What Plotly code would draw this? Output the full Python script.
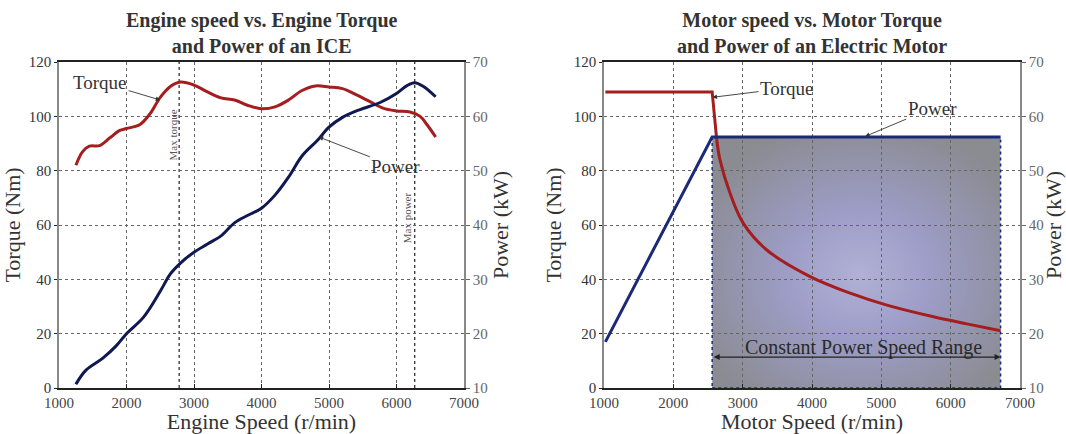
import base64
import plotly.graph_objects as go
from plotly.subplots import make_subplots

# ---------------- data ----------------
ice_torque_rpm = [1250, 1350, 1450, 1600, 1750, 1900, 2000, 2200, 2350, 2500, 2650, 2800, 3000,
                  3200, 3400, 3600, 3800, 4000, 4200, 4400, 4600, 4800, 5000, 5200, 5400, 5600,
                  5800, 6000, 6200, 6350, 6450, 6580]
ice_torque_nm = [82, 87, 89, 89.2, 92, 94.8, 95.5, 97, 101, 107, 111, 112.6, 111.5,
                 109, 106.8, 106, 104, 102.8, 103.5, 106, 109.5, 111.2, 110.8, 110.2, 108, 105.5,
                 103, 102, 101.6, 100, 97, 92.4]

ice_power_rpm = [1250, 1400, 1650, 1850, 2000, 2250, 2500, 2650, 2800, 3000, 3200, 3400, 3600,
                 3800, 4000, 4200, 4400, 4600, 4830, 5000, 5200, 5450, 5750, 6000, 6150, 6270,
                 6400, 6580]
ice_power_kw = [10.7, 13.3, 15.5, 17.8, 20.0, 23.0, 27.8, 31.0, 33.0, 35.0, 36.5, 38.0, 40.4,
                41.8, 43.1, 45.5, 48.8, 52.7, 55.6, 58.0, 59.8, 61.2, 62.5, 64.2, 65.6, 66.2,
                65.5, 63.6]

max_torque_rpm = 2780
max_power_rpm = 6270

em_torque_flat_rpm = [1020, 2560, 2626]
em_torque_flat_nm = [109, 109, 91.3]
em_torque_curve_rpm = [2626, 2674, 2818, 3010, 3348, 3973, 4550, 5080, 5752, 6234, 6720]
em_torque_curve_nm = [91.3, 83.9, 71.7, 60.6, 50.8, 41.0, 34.9, 30.5, 26.2, 23.6, 21.1]

em_power_rpm = [1020, 2560, 6720]
em_power_kw = [18.5, 56.2, 56.2]

cpsr_start, cpsr_end = 2560, 6720

x_ticks = [1000, 2000, 3000, 4000, 5000, 6000, 7000]
torque_ticks = [0, 20, 40, 60, 80, 100, 120]
power_ticks = [10, 20, 30, 40, 50, 60, 70]

# ---------------- styling ----------------
FONT = "Liberation Serif"
RED = "#a41d1f"
NAVY_L = "#0f1850"
NAVY_R = "#1b2a78"
TXT = "#333333"

fig = make_subplots(rows=1, cols=2, specs=[[{"secondary_y": True}, {"secondary_y": True}]])

# left chart
fig.add_trace(go.Scatter(x=ice_torque_rpm, y=ice_torque_nm, mode="lines",
                         line=dict(color=RED, width=3, shape="spline", smoothing=1.0),
                         showlegend=False), row=1, col=1, secondary_y=False)
fig.add_trace(go.Scatter(x=ice_power_rpm, y=ice_power_kw, mode="lines",
                         line=dict(color=NAVY_L, width=3, shape="spline", smoothing=1.0),
                         showlegend=False), row=1, col=1, secondary_y=True)

# right chart
fig.add_trace(go.Scatter(x=em_torque_flat_rpm, y=em_torque_flat_nm, mode="lines",
                         line=dict(color=RED, width=3), showlegend=False),
              row=1, col=2, secondary_y=False)
fig.add_trace(go.Scatter(x=em_torque_curve_rpm, y=em_torque_curve_nm, mode="lines",
                         line=dict(color=RED, width=3, shape="spline", smoothing=1.0),
                         showlegend=False), row=1, col=2, secondary_y=False)
fig.add_trace(go.Scatter(x=em_power_rpm, y=em_power_kw, mode="lines",
                         line=dict(color=NAVY_R, width=3), showlegend=False),
              row=1, col=2, secondary_y=True)

# gradient background image for constant power region
svg = ("<svg xmlns='http://www.w3.org/2000/svg' width='300' height='250' viewBox='0 0 300 250' "
       "preserveAspectRatio='none'><defs><radialGradient id='g' cx='0.51' cy='0.55' r='0.62'>"
       "<stop offset='0' stop-color='#b1b1d6'/><stop offset='0.4' stop-color='#9d9dc8'/>"
       "<stop offset='1' stop-color='#8b8b92'/></radialGradient></defs>"
       "<rect width='300' height='250' fill='url(#g)'/></svg>")
src = "data:image/svg+xml;base64," + base64.b64encode(svg.encode()).decode()
top_torque = (em_power_kw[1] - 10) * 2
fig.add_layout_image(dict(source=src, xref="x2", yref="y3", x=cpsr_start, y=top_torque,
                          sizex=cpsr_end - cpsr_start, sizey=top_torque, sizing="stretch",
                          xanchor="left", yanchor="top", layer="below", opacity=1))

shapes = []
shapes.append(dict(type="rect", xref="x2", yref="y3", x0=cpsr_start, x1=cpsr_end, y0=0,
                   y1=top_torque, line=dict(color=NAVY_R, width=1.5, dash="dot"), layer="above"))
wl = dict(color="rgba(255,255,255,0.6)", width=1)
wl2 = dict(color="rgba(255,255,255,0.35)", width=1)
shapes += [
    dict(type="line", xref="x2", yref="y3", x0=cpsr_start, x1=cpsr_end, y0=61.5, y1=61.5, line=wl, layer="below"),
    dict(type="line", xref="x2", yref="y3", x0=3963, x1=3963, y0=30.8, y1=top_torque, line=wl, layer="below"),
    dict(type="line", xref="x2", yref="y3", x0=5368, x1=5368, y0=30.8, y1=top_torque, line=wl, layer="below"),
    dict(type="line", xref="x2", yref="y3", x0=cpsr_start, x1=3963, y0=30.8, y1=30.8, line=wl2, layer="below"),
    dict(type="line", xref="x2", yref="y3", x0=5368, x1=cpsr_end, y0=30.8, y1=30.8, line=wl2, layer="below"),
]
for xv in (max_torque_rpm, max_power_rpm):
    shapes.append(dict(type="line", xref="x", yref="y", x0=xv, x1=xv, y0=0, y1=120,
                       line=dict(color="#222222", width=1.2, dash="dot"), layer="below"))
fig.update_layout(shapes=shapes)

# ---------------- axes ----------------
dom_l = [59 / 1066, 464 / 1066]
dom_r = [604 / 1066, 1020 / 1066]
dom_y = [(434 - 388) / 434, (434 - 62) / 434]

xcommon = dict(range=[1000, 7000], tickvals=x_ticks, showgrid=True, gridcolor="#666666",
               griddash="dot", gridwidth=1, showline=True, linecolor="#222222", linewidth=1.5,
               mirror=True, ticks="inside", ticklen=4, tickcolor="#222222", automargin=False,
               tickfont=dict(family=FONT, size=15, color="#444444"), zeroline=False)
fig.update_layout(
    xaxis=dict(domain=dom_l, **xcommon,
               title=dict(text="Engine Speed (r/min)", font=dict(family=FONT, size=22, color=TXT), standoff=2)),
    xaxis2=dict(domain=dom_r, **xcommon,
                title=dict(text="Motor Speed (r/min)", font=dict(family=FONT, size=22, color=TXT), standoff=2)),
)
ycommon = dict(range=[0, 120], tickvals=torque_ticks, showgrid=True, gridcolor="#666666",
               griddash="dot", gridwidth=1, showline=True, linecolor="#888888", linewidth=1.5,
               ticks="outside", ticklen=3, tickcolor="#222222", zeroline=False, automargin=False,
               tickfont=dict(family=FONT, size=15, color="#333333"),
               title=dict(text="Torque (Nm)", font=dict(family=FONT, size=22, color=TXT), standoff=6))
y2common = dict(range=[10, 70], tickvals=power_ticks, showgrid=False, showline=True,
                linecolor="#888888", linewidth=1.5, ticks="outside", ticklen=4, automargin=False,
                tickcolor="#666666", zeroline=False,
                tickfont=dict(family=FONT, size=15, color="#666666"),
                title=dict(text="Power (kW)", font=dict(family=FONT, size=22, color=TXT), standoff=6))
fig.update_layout(
    yaxis=dict(domain=dom_y, **ycommon),
    yaxis2=dict(domain=dom_y, **y2common),
    yaxis3=dict(domain=dom_y, **ycommon),
    yaxis4=dict(domain=dom_y, **y2common),
)

# ---------------- annotations ----------------
af = dict(family=FONT, size=19, color=TXT)
tf = dict(family=FONT, size=20, color=TXT)
ann = [
    dict(xref="paper", yref="paper", x=(59 + 464) / 2 / 1066, y=1 - 33 / 434,
         text="<b>Engine speed vs. Engine Torque<br>and Power of an ICE</b>", showarrow=False,
         font=tf, xanchor="center", yanchor="middle"),
    dict(xref="paper", yref="paper", x=(604 + 1020) / 2 / 1066, y=1 - 33 / 434,
         text="<b>Motor speed vs. Motor Torque<br>and Power of an Electric Motor</b>", showarrow=False,
         font=tf, xanchor="center", yanchor="middle"),
    # left
    dict(xref="x", yref="y", x=2500, y=106, ax=1610, ay=112.6, axref="x", ayref="y",
         text="Torque", font=af, showarrow=True, arrowhead=2, arrowsize=1, arrowwidth=0.9,
         arrowcolor=TXT),
    dict(xref="x", yref="y", x=4848, y=92.4, ax=5990, ay=81.4, axref="x", ayref="y",
         text="Power", font=af, showarrow=True, arrowhead=2, arrowsize=1, arrowwidth=0.9,
         arrowcolor=TXT),
    dict(xref="x", yref="y", x=2690, y=93, text="Max torque", textangle=-90, showarrow=False,
         font=dict(family=FONT, size=11, color="#555555")),
    dict(xref="x", yref="y", x=6160, y=62.6, text="Max power", textangle=-90, showarrow=False,
         font=dict(family=FONT, size=11, color="#555555")),
    # right
    dict(xref="x2", yref="y3", x=2565, y=107, ax=3640, ay=110.4, axref="x2", ayref="y3",
         text="Torque", font=af, showarrow=True, arrowhead=2, arrowsize=1, arrowwidth=0.9,
         arrowcolor=TXT),
    dict(xref="x2", yref="y3", x=4766, y=92.6, ax=5733, ay=103, axref="x2", ayref="y3",
         text="Power", font=af, showarrow=True, arrowhead=2, arrowsize=1, arrowwidth=0.9,
         arrowcolor=TXT),
    dict(xref="x2", yref="y3", x=4740, y=14.9, text="Constant Power Speed Range", showarrow=False,
         font=dict(family=FONT, size=20, color="#2a2a2a")),
    dict(xref="x2", yref="y3", x=cpsr_end, y=11.4, ax=cpsr_start, ay=11.4, axref="x2", ayref="y3",
         text="", showarrow=True, arrowhead=2, startarrowhead=2, arrowside="end+start",
         arrowsize=1, arrowwidth=1.2, arrowcolor="#222222"),
]
fig.update_layout(annotations=ann)

fig.update_layout(width=1066, height=434, margin=dict(l=0, r=0, t=0, b=0),
                  plot_bgcolor="white", paper_bgcolor="white", showlegend=False,
                  font=dict(family=FONT))

fig.write_html("out.html")
